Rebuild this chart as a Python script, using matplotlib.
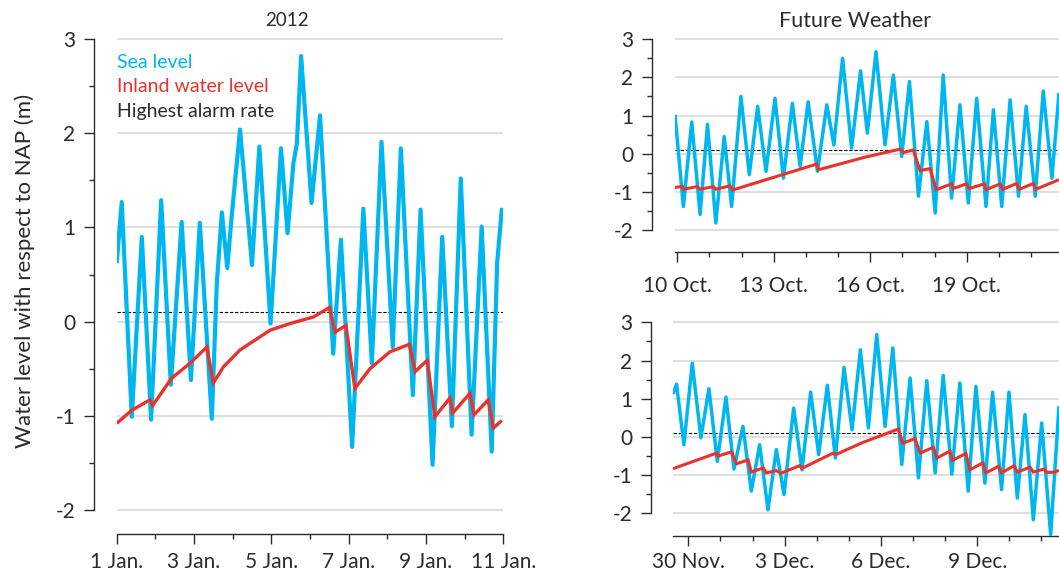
import matplotlib
matplotlib.use("Agg")
import matplotlib.pyplot as plt
from matplotlib.ticker import FixedLocator, FixedFormatter

plt.rcParams['font.family'] = ['Lato', 'DejaVu Sans']

# ---------------- data (days since first tick date) ----------------
# Panel 1: 2012 (day 0 = 1 Jan.)
sea_2012_t = [0.00, 0.13, 0.39, 0.65, 0.89, 1.15, 1.40, 1.68, 1.92, 2.15,
              2.46, 2.59, 2.72, 2.86, 2.97, 3.19, 3.50, 3.69, 3.98, 4.25,
              4.42, 4.57, 4.66, 4.77, 5.04, 5.26, 5.60, 5.80, 6.09, 6.38,
              6.60, 6.85, 7.14, 7.35, 7.66, 7.86, 8.17, 8.42, 8.67, 8.90,
              9.18, 9.44, 9.70, 9.84, 9.96, 10.00]
sea_2012_v = [0.62, 1.27, -1.01, 0.90, -1.04, 1.29, -0.67, 1.06, -0.62, 1.05,
              -1.03, 0.41, 1.16, 0.57, 1.10, 2.04, 0.60, 1.86, -0.02, 1.84,
              0.94, 1.68, 1.89, 2.82, 1.26, 2.19, -0.34, 0.87, -1.33, 1.20,
              -0.44, 1.91, -0.27, 1.84, -0.78, 1.19, -1.52, 0.90, -1.11, 1.52,
              -1.20, 1.01, -1.38, 0.62, 1.19, 1.17]
inland_2012_t = [0.00, 0.39, 0.86, 0.93, 1.42, 1.90, 2.33, 2.50, 2.76, 3.19,
                 3.97, 4.48, 5.09, 5.50, 5.65, 5.93, 6.16, 6.55, 7.07, 7.57,
                 7.72, 8.03, 8.23, 8.62, 8.69, 9.14, 9.24, 9.61, 9.74, 9.96]
inland_2012_v = [-1.08, -0.94, -0.83, -0.89, -0.60, -0.44, -0.27, -0.65, -0.48, -0.30,
                 -0.09, -0.02, 0.05, 0.15, -0.11, -0.04, -0.71, -0.50, -0.32, -0.24,
                 -0.53, -0.41, -1.01, -0.81, -0.97, -0.76, -0.99, -0.83, -1.13, -1.05]

# Panel 2: Future weather, October (day 0 = 10 Oct.)
sea_oct_t = [-0.07, 0.19, 0.45, 0.71, 0.94, 1.20, 1.46, 1.69, 1.98, 2.24,
             2.50, 2.76, 3.04, 3.30, 3.58, 3.82, 4.07, 4.36, 4.65, 4.87,
             5.14, 5.42, 5.70, 5.91, 6.18, 6.46, 6.72, 6.98, 7.22, 7.50,
             7.76, 8.02, 8.27, 8.53, 8.79, 9.05, 9.31, 9.60, 9.83, 10.09,
             10.35, 10.61, 10.85, 11.13, 11.38, 11.65, 11.87]
sea_oct_v = [1.02, -1.38, 0.83, -1.59, 0.77, -1.81, 0.45, -1.38, 1.50, -0.55,
             1.24, -0.46, 1.45, -0.64, 1.32, -0.33, 1.36, -0.46, 1.28, 0.23,
             2.50, 0.15, 2.17, 0.54, 2.67, 0.23, 2.06, -0.07, 1.89, -1.11,
             0.84, -1.55, 2.06, -1.16, 1.28, -1.29, 1.45, -1.38, 1.15, -1.38,
             1.41, -1.11, 1.24, -1.11, 1.64, -0.64, 1.59]
inland_oct_t = [-0.07, 0.16, 0.19, 0.62, 0.71, 1.12, 1.20, 1.64, 1.72, 4.34,
                4.39, 5.84, 6.93, 7.03, 7.34, 7.55, 7.86, 8.05, 8.53, 8.58,
                8.99, 9.08, 9.54, 9.60, 10.04, 10.12, 10.55, 10.64, 11.07, 11.15,
                11.87]
inland_oct_v = [-0.88, -0.86, -0.93, -0.86, -0.93, -0.86, -0.93, -0.84, -0.95, -0.27,
                -0.42, -0.09, 0.12, 0.03, 0.10, -0.44, -0.39, -0.94, -0.79, -0.91,
                -0.79, -0.91, -0.79, -0.94, -0.79, -0.93, -0.78, -0.93, -0.78, -0.93,
                -0.68]

# Panel 3: Future weather, December (day 0 = 30 Nov.)
sea_dec_t = [-0.48, -0.37, -0.14, 0.12, 0.39, 0.64, 0.90, 1.17, 1.42, 1.70,
             1.96, 2.22, 2.48, 2.74, 2.98, 3.28, 3.54, 3.81, 4.06, 4.33,
             4.58, 4.85, 5.10, 5.36, 5.61, 5.87, 6.13, 6.37, 6.65, 6.91,
             7.17, 7.43, 7.69, 7.94, 8.21, 8.46, 8.72, 8.96, 9.24, 9.48,
             9.76, 9.99, 10.25, 10.49, 10.75, 11.01, 11.29, 11.55]
sea_dec_v = [1.12, 1.38, -0.21, 1.93, -0.03, 1.26, -0.65, 1.04, -0.85, 0.27,
             -1.43, -0.21, -1.92, -0.34, -1.52, 0.75, -0.87, 1.17, -0.47, 1.35,
             -0.56, 1.82, 0.18, 2.28, 0.23, 2.68, 0.27, 2.33, -0.73, 1.54,
             -1.08, 1.47, -0.95, 1.61, -0.98, 1.41, -1.43, 1.32, -1.22, 1.17,
             -1.39, 1.17, -1.61, 0.58, -2.18, 0.36, -2.57, 0.80]
inland_dec_t = [-0.48, 0.88, 0.92, 1.34, 1.50, 1.86, 1.96, 2.33, 2.43, 2.74,
                2.88, 3.47, 3.54, 4.51, 4.59, 5.44, 6.54, 6.68, 7.06, 7.22,
                7.63, 7.74, 8.15, 8.23, 8.65, 8.77, 9.17, 9.27, 9.66, 9.76,
                10.15, 10.25, 10.65, 10.75, 11.08, 11.18, 11.43, 11.55]
inland_dec_v = [-0.84, -0.43, -0.51, -0.40, -0.71, -0.61, -0.93, -0.82, -0.95, -0.89,
                -0.96, -0.76, -0.83, -0.43, -0.47, -0.15, 0.20, -0.17, -0.05, -0.43,
                -0.28, -0.56, -0.38, -0.62, -0.44, -0.87, -0.69, -0.95, -0.78, -0.95,
                -0.76, -0.93, -0.80, -0.93, -0.85, -0.94, -0.93, -0.88]

alarm_level = 0.1

labels_2012 = ["1 Jan.", "3 Jan.", "5 Jan.", "7 Jan.", "9 Jan.", "11 Jan."]
labels_oct = ["10 Oct.", "13 Oct.", "16 Oct.", "19 Oct."]
labels_dec = ["30 Nov.", "3 Dec.", "6 Dec.", "9 Dec."]

legend_labels = ["Sea level", "Inland water level", "Highest alarm rate"]
titles = ["2012", "Future Weather"]
ylabel = "Water level with respect to NAP (m)"

# ---------------- style ----------------
SEA = "#00B6EE"
RED = "#E8322B"
INK = "#2B2B2B"
GRID = "#D9D9D9"

W, H = 1059, 574
fig = plt.figure(figsize=(W / 100, H / 100), dpi=100)


def ax_px(x0, x1, ytop, ybot):
    return fig.add_axes([x0 / W, 1 - ybot / H, (x1 - x0) / W, (ybot - ytop) / H])


def setup(ax, xlim, ylim, major, minor, labels, yoff_pt, xpad, lw_sea, lw_red,
          sea_t, sea_v, in_t, in_v):
    ax.set_xlim(*xlim)
    ax.set_ylim(*ylim)
    for g in range(-2, 4):
        ax.axhline(g, color=GRID, lw=1.2, zorder=1)
    ax.axhline(alarm_level, color="black", lw=0.8, ls=(0, (3, 1.6)), zorder=2)
    ax.plot(sea_t, sea_v, color=SEA, lw=lw_sea, zorder=3,
            solid_joinstyle="round", solid_capstyle="butt")
    ax.plot(in_t, in_v, color=RED, lw=lw_red, zorder=4,
            solid_joinstyle="miter", solid_capstyle="butt")
    for s in ("top", "right"):
        ax.spines[s].set_visible(False)
    ax.spines["left"].set_position(("outward", yoff_pt))
    ax.spines["left"].set_bounds(-2, 3)
    for s in ("left", "bottom"):
        ax.spines[s].set_color(INK)
        ax.spines[s].set_linewidth(1.0)
    ax.yaxis.set_major_locator(FixedLocator([-2, -1, 0, 1, 2, 3]))
    ax.yaxis.set_major_formatter(FixedFormatter(["-2", "-1", "0", "1", "2", "3"]))
    ax.yaxis.set_minor_locator(FixedLocator([-1.5, -0.5, 0.5, 1.5, 2.5]))
    ax.xaxis.set_major_locator(FixedLocator(major))
    ax.xaxis.set_major_formatter(FixedFormatter(labels))
    ax.xaxis.set_minor_locator(FixedLocator(minor))
    ax.tick_params(which="major", length=7.5, width=1.0, color=INK,
                   labelsize=15, labelcolor=INK)
    ax.tick_params(axis="y", which="major", pad=6)
    ax.tick_params(axis="x", which="major", pad=xpad)
    ax.tick_params(which="minor", length=3.8, width=1.0, color=INK)
    ax.patch.set_alpha(0)


# Left: 2012
ax1 = ax_px(116.7, 503.3, 34.4, 533.6)
setup(ax1, (0, 10), (-2.25, 3.05), [0, 2, 4, 6, 8, 10], [1, 3, 5, 7, 9],
      labels_2012, 16.3, 6.0, 3.0, 2.4,
      sea_2012_t, sea_2012_v, inland_2012_t, inland_2012_v)

# Right top: October
ax2 = ax_px(675, 1059, 31.5, 251.9)
setup(ax2, (-0.07, 11.87), (-2.57, 3.2), [0, 3, 6, 9], [1, 2, 4, 5, 7, 8, 10, 11],
      labels_oct, 16.6, 10, 2.5, 2.2,
      sea_oct_t, sea_oct_v, inland_oct_t, inland_oct_v)

# Right bottom: December
ax3 = ax_px(673, 1059, 314.8, 536.1)
setup(ax3, (-0.48, 11.55), (-2.61, 3.2), [0, 3, 6, 9], [1, 2, 4, 5, 7, 8, 10, 11],
      labels_dec, 15.8, 4.0, 2.5, 2.2,
      sea_dec_t, sea_dec_v, inland_dec_t, inland_dec_v)

# Titles, legend text, y label
fig.text(287 / W, 1 - 21 / H, titles[0], ha="center", va="center",
         fontsize=13.5, color=INK)
fig.text(855 / W, 1 - 21 / H, titles[1], ha="center", va="center",
         fontsize=15.5, color=INK)
for lbl, col, yy in zip(legend_labels, [SEA, RED, INK], [62, 86, 111]):
    fig.text(117 / W, 1 - yy / H, lbl, ha="left", va="center",
             fontsize=14, color=col)
fig.text(25 / W, 1 - 271 / H, ylabel, rotation=90, ha="center", va="center",
         fontsize=16, color=INK)

fig.savefig("out.png", dpi=100)
